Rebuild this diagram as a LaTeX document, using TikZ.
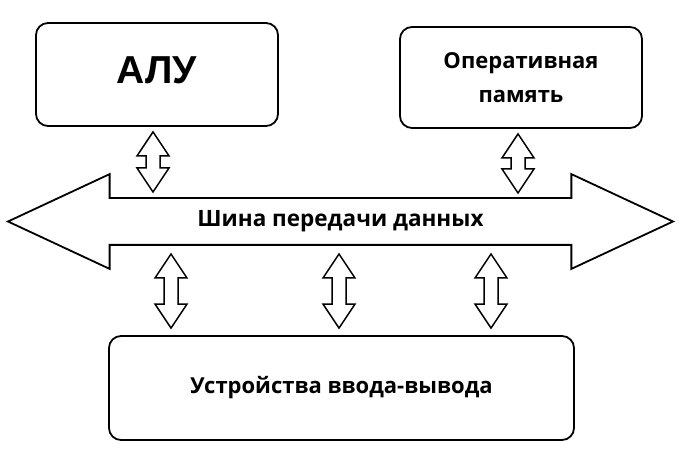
\documentclass[tikz,border=0pt]{standalone}
\usepackage{fontspec}
\setmainfont{Open Sans}
\newfontfamily\arialfont{Liberation Sans}
\usepackage{tikz}
\usetikzlibrary{shapes, arrows, positioning, calc}

\tikzset{
    block/.style={draw, rectangle, rounded corners=12pt, line width=1.8pt, align=center,
        font=\bfseries\fontsize{22}{34}\selectfont},
    fatarrow/.style={line width=1.5pt, line join=miter, to path={
        let \p1=(\tikztostart), \p2=(\tikztotarget) in
        (\x1,\y1) -- (\x1-16pt,\y1-24pt) -- (\x1-7pt,\y1-24pt) -- (\x1-7pt,\y2+24pt)
        -- (\x1-16pt,\y2+24pt) -- (\x1,\y2) -- (\x1+16pt,\y2+24pt) -- (\x1+7pt,\y2+24pt)
        -- (\x1+7pt,\y1-24pt) -- (\x1+16pt,\y1-24pt) -- cycle}}
}

\begin{document}
\begin{tikzpicture}[x=1pt, y=-1pt]
    \useasboundingbox (0,0) rectangle (680,462);

    % Blocks
    \node [block, minimum width=242pt, minimum height=103pt, text depth=9pt,
        font=\arialfont\bfseries\fontsize{39}{39}\selectfont] (alu) at (157,74.5) {АЛУ};
    \node [block, minimum width=242pt, minimum height=101pt] (ram) at (521,77.5) {Оперативная\\память};
    \node [block, minimum width=465pt, minimum height=104pt] (io) at (341.5,388) {Устройства ввода-вывода};

    % Bus
    \node [draw, double arrow, line width=1.8pt, minimum height=665pt,
        double arrow head extend=24pt, double arrow tip angle=50,
        text height=15pt, text depth=4pt, inner ysep=13pt, inner xsep=0pt,
        font=\bfseries\fontsize{22.5}{26}\selectfont] (bus) at (340.5,221.5) {Шина передачи данных};

    % Connections
    \draw[fatarrow] ([xshift=-4pt,yshift=-5pt]alu.south) to ([yshift=29.5pt]bus.center);
    \draw[fatarrow] ([xshift=-3pt,yshift=-5pt]ram.south) to ([yshift=28.5pt]bus.center);
    \foreach \dx in {-169.5,-1.5,150.5}
        \draw[fatarrow] ([xshift=\dx pt,yshift=-32.5pt]bus.center) to ([yshift=7pt]io.north);
\end{tikzpicture}
\end{document}
